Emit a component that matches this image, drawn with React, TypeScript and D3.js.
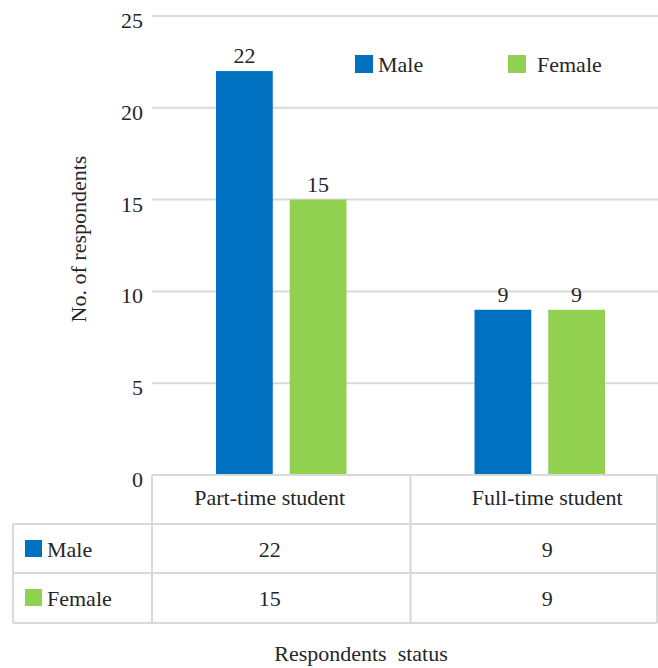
import React from "react";
import * as d3 from "d3";

const categories = ["Part-time student", "Full-time student"];
const seriesNames = ["Male", "Female"];
const maleValues = [22, 9];
const femaleValues = [15, 9];
const yTicks = [0, 5, 10, 15, 20, 25];
const colors = ["#0070C0", "#92D050"];

const W = 658;
const H = 668;
const FONT = "serif";
const INK = "#262626";
const GRID = "#d9d9d9";

const left = 152;
const right = 669;
const top = 16;
const bottom = 475;

const x = d3.scaleBand().domain(categories).range([left, right]);
const inner = d3.scaleBand().domain(seriesNames).range([64, x.bandwidth() - 64]).paddingInner(0.23);
const y = d3.scaleLinear().domain([0, 25]).range([bottom, top]);
// text columns of the data table sit a little off the bar groups
const tableX = d3.scaleBand().domain(categories).range([131, 686]);

const values = [maleValues, femaleValues];

function T(props: any) {
  return <text fontFamily={FONT} fontSize={22} fill={INK} {...props} />;
}

export default function App() {
  const rowY = [475, 524, 573, 623];
  const colX = [13, left, x(categories[1]) as number, 657];
  const legendX = [355, 508];
  const legendTextX = [378, 537];

  return (
    <svg width={W} height={H} style={{ position: "absolute", left: 0, top: 0, background: "#fff" }}>
      {/* grid */}
      {yTicks.map((t) => (
        <line key={"g" + t} x1={left} x2={W} y1={y(t)} y2={y(t)} stroke={GRID} strokeWidth={2} />
      ))}
      {yTicks.map((t) => (
        <T key={"yt" + t} x={143} y={y(t) + 12} textAnchor="end">{t}</T>
      ))}

      {/* bars */}
      {seriesNames.map((s, si) =>
        categories.map((c, ci) => {
          const bx = (x(c) as number) + (inner(s) as number);
          const v = values[si][ci];
          return (
            <g key={s + c}>
              <rect x={bx} y={y(v)} width={inner.bandwidth()} height={bottom - y(v)} fill={colors[si]} />
              <T x={bx + inner.bandwidth() / 2} y={y(v) - 8} textAnchor="middle">{v}</T>
            </g>
          );
        })
      )}

      {/* legend */}
      {seriesNames.map((s, si) => (
        <g key={"lg" + s}>
          <rect x={legendX[si]} y={55} width={18} height={18} fill={colors[si]} />
          <T x={legendTextX[si]} y={72}>{s}</T>
        </g>
      ))}

      {/* data table */}
      <g stroke={GRID} strokeWidth={2}>
        <line x1={left} x2={colX[3]} y1={rowY[0]} y2={rowY[0]} />
        {[1, 2, 3].map((r) => (
          <line key={"r" + r} x1={colX[0]} x2={colX[3]} y1={rowY[r]} y2={rowY[r]} />
        ))}
        <line x1={colX[0]} x2={colX[0]} y1={rowY[1]} y2={rowY[3]} />
        {[1, 2, 3].map((c) => (
          <line key={"c" + c} x1={colX[c]} x2={colX[c]} y1={rowY[0]} y2={rowY[3]} />
        ))}
      </g>
      {categories.map((c, ci) => {
        const cx = (tableX(c) as number) + tableX.bandwidth() / 2;
        return (
          <g key={"tc" + c}>
            <T x={cx} y={505} textAnchor="middle">{c}</T>
            {seriesNames.map((s, si) => (
              <T key={s} x={cx} y={rowY[si + 1] + 33} textAnchor="middle">{values[si][ci]}</T>
            ))}
          </g>
        );
      })}
      {seriesNames.map((s, si) => (
        <g key={"tr" + s}>
          <rect x={25} y={rowY[si + 1] + 16} width={17} height={17} fill={colors[si]} />
          <T x={47} y={rowY[si + 1] + 33}>{s}</T>
        </g>
      ))}

      {/* axis titles */}
      <T transform="translate(86,239) rotate(-90)" textAnchor="middle">No. of respondents</T>
      <T x={361} y={661} textAnchor="middle" style={{ whiteSpace: "pre" }}>{"Respondents  status"}</T>
    </svg>
  );
}
